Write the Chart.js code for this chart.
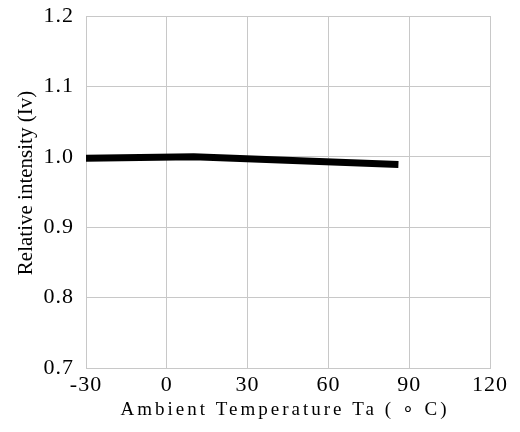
<!DOCTYPE html>
<html>
<head>
<meta charset="utf-8">
<script src="https://cdn.jsdelivr.net/npm/chart.js@4/dist/chart.umd.min.js"></script>
<style>
  html, body { margin: 0; padding: 0; background: #fff; }
  #c { display: block; }
</style>
</head>
<body>
<canvas id="c" width="520" height="432"></canvas>
<script>
// data
const temps = [-30, 10, 86];
const intensity = [0.998, 1.0, 0.989];
const xTicks = [-30, 0, 30, 60, 90, 120];
const yTicks = [0.7, 0.8, 0.9, 1.0, 1.1, 1.2];

const xTitle = "Ambient Temperature Ta ( \u2218 C)";
const yTitle = "Relative intensity (Iv)";

// axis titles drawn by hand, the original has them a bit off centre and spaced out
const titlePlugin = {
    id: "titles",
    afterDraw(chart){
        const ctx = chart.ctx;
        ctx.save();
        ctx.fillStyle = "#000";
        ctx.textAlign = "center";
        ctx.textBaseline = "middle";
        ctx.font = "19px 'Liberation Serif'";
        ctx.letterSpacing = "3px";
        ctx.fillText(xTitle, 285, 410);
        ctx.letterSpacing = "0px";
        ctx.font = "21px 'Liberation Serif'";
        ctx.translate(26, 183);
        ctx.rotate(-Math.PI/2);
        ctx.fillText(yTitle, 0, 0);
        ctx.restore();
    }
};

const spacingPlugin = {
    id: "spacing",
    beforeDraw(chart){ chart.ctx.letterSpacing = "1px"; },
    afterDraw(chart){ chart.ctx.letterSpacing = "0px"; }
};

new Chart(document.getElementById("c"), {
    type: "line",
    data: {
        datasets: [{
            data: temps.map((t,i)=>({x:t, y:intensity[i]})),
            borderColor: "#000",
            borderWidth: 7,
            pointRadius: 0,
            tension: 0,
            fill: false
        }]
    },
    options: {
        responsive: false,
        animation: false,
        layout: { padding: { top: 16, right: 30, left: 0, bottom: 0 } },
        plugins: { legend: { display: false }, tooltip: { enabled: false } },
        scales: {
            x: {
                type: "linear",
                min: -30, max: 120,
                afterBuildTicks: s => { s.ticks = xTicks.map(v=>({value:v})); },
                afterFit: s => { s.height = 64; s.paddingRight = 0; s.paddingLeft = 0; },
                grid: { color: "#c8c8c8", lineWidth: 1, drawTicks: false },
                border: { color: "#c8c8c8" },
                ticks: {
                    color: "#000",
                    font: { family: "'Liberation Serif'", size: 22 },
                    padding: 4,
                    maxRotation: 0,
                    autoSkip: false
                }
            },
            y: {
                min: 0.7, max: 1.2,
                afterBuildTicks: s => { s.ticks = yTicks.map(v=>({value:v})); },
                afterFit: s => { s.width = 86; s.paddingTop = 0; s.paddingBottom = 0; },
                grid: { color: "#c8c8c8", lineWidth: 1, drawTicks: false },
                border: { color: "#c8c8c8" },
                ticks: {
                    color: "#000",
                    font: { family: "'Liberation Serif'", size: 22 },
                    padding: 12,
                    callback: v => v.toFixed(1)
                }
            }
        }
    },
    plugins: [spacingPlugin, titlePlugin]
});
</script>
</body>
</html>
